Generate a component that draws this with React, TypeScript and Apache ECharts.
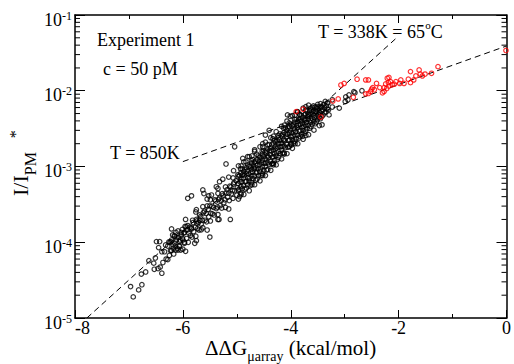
import React, { useEffect, useRef } from "react";
import * as echarts from "echarts";

const FONT = '"Liberation Serif", "Times New Roman", serif';

const xMin = -8;
const xMax = 0;
const yMin = 1e-5;
const yMax = 1e-1;

const yMinorTicks = [
  2e-5, 3e-5, 4e-5, 5e-5, 6e-5, 7e-5, 8e-5, 9e-5,
  2e-4, 3e-4, 4e-4, 5e-4, 6e-4, 7e-4, 8e-4, 9e-4,
  2e-3, 3e-3, 4e-3, 5e-3, 6e-3, 7e-3, 8e-3, 9e-3,
  2e-2, 3e-2, 4e-2, 5e-2, 6e-2, 7e-2, 8e-2, 9e-2,
];

// sparse / outlying black points
const blackSparse: [number, number][] = [
  [-6.97, 2.6e-5], [-6.92, 1.9e-5], [-6.82, 2.35e-5], [-6.76, 2.75e-5], [-6.77, 3.8e-5],
  [-6.69, 4.05e-5], [-6.63, 5.7e-5], [-6.54, 5.3e-5], [-6.53, 4.4e-5], [-6.49, 1.02e-4],
  [-6.43, 1.02e-4], [-6.45, 8.5e-5], [-6.51, 6.2e-5], [-6.46, 4.5e-5], [-6.39, 3.9e-5],
  [-6.42, 4.7e-5], [-6.37, 5.4e-5], [-6.39, 7.5e-5], [-6.34, 7.5e-5], [-6.31, 6.0e-5],
  [-6.28, 5.9e-5], [-6.32, 9.2e-5], [-6.28, 8.9e-5], [-6.24, 1.0e-4], [-6.21, 1.07e-4],
  [-6.18, 8.3e-5], [-6.15, 9.7e-5], [-6.23, 7.8e-5], [-6.13, 7.9e-5], [-6.09, 7.9e-5],
  [-6.06, 8.8e-5], [-6.12, 1.07e-4], [-6.06, 1.02e-4], [-6.19, 1.25e-4], [-6.21, 1.5e-4],
  [-6.13, 1.35e-4], [-6.03, 1.25e-4], [-5.97, 9.7e-5], [-6.01, 1.13e-4], [-5.97, 1.35e-4],
  [-5.91, 1.46e-4], [-5.94, 1.6e-4], [-5.84, 1.5e-4], [-5.78, 9.7e-5], [-5.66, 1.46e-4],
  [-5.5, 1.17e-4], [-5.74, 1.78e-4], [-5.69, 1.95e-4], [-5.91, 3.8e-4], [-5.84, 4.1e-4],
  [-5.63, 4.9e-4], [-5.61, 4.4e-4], [-5.52, 4.1e-4], [-5.47, 4.2e-4], [-5.38, 5.4e-4],
  [-5.32, 6.3e-4], [-5.26, 6.8e-4], [-5.2, 1.08e-3], [-5.12, 2.0e-4], [-5.33, 2.0e-4],
  [-6.0, 8.1e-5], [-5.04, 1.82e-3], [-5.06, 8.8e-4], [-4.89, 1.28e-3], [-4.8, 1.35e-3],
  [-4.67, 1.66e-3], [-4.52, 2.0e-3], [-4.47, 2.6e-3], [-4.4, 3.0e-3], [-4.06, 4.8e-3],
  [-4.01, 4.6e-3], [-4.33, 1.1e-3], [-3.78, 2.5e-3], [-3.99, 1.92e-3], [-3.42, 3.55e-3],
  [-3.29, 4.8e-3], [-3.23, 7.6e-3], [-2.99, 7.2e-3], [-2.94, 7.6e-3], [-2.98, 8.3e-3],
  [-2.92, 8.8e-3], [-2.83, 9.7e-3], [-2.81, 9.4e-3], [-2.68, 1.0e-2], [-3.1, 5.9e-3],
  [-3.23, 6.1e-3], [-3.63, 5.9e-3], [-3.88, 5.3e-3], [-3.72, 5.6e-3], [-3.58, 6.3e-3],
  [-3.84, 4.9e-3],
];

// medium-density part of the band
const blackMid: [number, number][] = [
  [-6.25, 6.7e-5], [-6.26, 1.01e-4], [-6.17, 7.0e-5], [-6.18, 9.2e-5], [-6.16, 1.22e-4],
  [-6.1, 8.3e-5], [-6.11, 1.15e-4], [-6.09, 1.41e-4], [-6.04, 7.9e-5], [-6.05, 1.07e-4],
  [-6.03, 1.35e-4], [-5.97, 1.0e-4], [-5.98, 1.32e-4], [-5.96, 1.62e-4], [-5.9, 1.0e-4],
  [-5.89, 1.32e-4], [-5.91, 1.66e-4], [-5.83, 1.17e-4], [-5.84, 1.55e-4], [-5.82, 1.95e-4],
  [-5.76, 1.2e-4], [-5.77, 1.58e-4], [-5.75, 2.0e-4], [-5.76, 2.51e-4], [-5.7, 1.45e-4],
  [-5.71, 1.82e-4], [-5.69, 2.29e-4], [-5.63, 1.55e-4], [-5.64, 1.95e-4], [-5.62, 2.45e-4],
  [-5.63, 2.95e-4], [-5.56, 1.86e-4], [-5.57, 2.4e-4], [-5.55, 3.02e-4], [-5.49, 1.91e-4],
  [-5.48, 2.4e-4], [-5.5, 3.02e-4], [-5.49, 3.63e-4], [-5.42, 2.29e-4], [-5.43, 2.88e-4],
  [-5.41, 3.63e-4], [-5.35, 2.32e-4], [-5.36, 2.92e-4], [-5.34, 3.67e-4], [-5.35, 4.42e-4],
  [-5.28, 2.82e-4], [-5.29, 3.55e-4], [-5.27, 4.37e-4], [-5.21, 2.88e-4], [-5.22, 3.63e-4],
  [-5.2, 4.47e-4], [-5.21, 5.37e-4], [-5.14, 3.55e-4], [-5.15, 4.47e-4], [-5.13, 5.5e-4],
  [-5.07, 3.8e-4], [-5.08, 4.79e-4], [-5.06, 5.89e-4], [-5.07, 7.08e-4],
  [-6.21, 7.76e-5], [-6.22, 1.02e-4], [-6.14, 8.9e-5], [-6.15, 1.2e-4], [-6.07, 9.0e-5],
  [-6.08, 1.16e-4], [-6.0, 1.07e-4], [-6.01, 1.48e-4], [-5.93, 1.12e-4], [-5.94, 1.45e-4],
  [-5.86, 1.23e-4], [-5.87, 1.58e-4], [-5.8, 1.38e-4], [-5.81, 1.82e-4], [-5.73, 1.51e-4],
  [-5.74, 1.91e-4], [-5.66, 1.74e-4], [-5.67, 2.19e-4], [-5.59, 1.95e-4], [-5.6, 2.57e-4],
  [-5.52, 2.17e-4], [-5.53, 2.73e-4], [-5.45, 2.37e-4], [-5.46, 2.99e-4], [-5.38, 2.78e-4],
  [-5.39, 3.5e-4], [-5.31, 3.04e-4], [-5.32, 3.83e-4], [-5.24, 3.33e-4], [-5.25, 4.19e-4],
  [-5.17, 3.93e-4], [-5.18, 4.94e-4], [-5.1, 4.37e-4], [-5.11, 5.37e-4], [-5.04, 4.79e-4],
  [-5.05, 6.17e-4],
  [-5.95, 7.6e-5], [-5.95, 2.0e-4], [-5.75, 1.05e-4], [-5.75, 2.69e-4], [-5.55, 1.45e-4],
  [-5.55, 3.72e-4], [-5.35, 2.0e-4], [-5.35, 5.13e-4], [-5.15, 2.75e-4], [-5.15, 7.24e-4],
];

// dense part of the band
const blackDense: [number, number][] = [
  [-5.0, 4.17e-4], [-4.99, 5.25e-4], [-5.01, 6.46e-4], [-4.98, 7.76e-4],
  [-4.95, 4.0e-4], [-4.96, 5.0e-4], [-4.94, 6.3e-4], [-4.95, 7.6e-4], [-4.93, 9.3e-4],
  [-4.9, 5.1e-4], [-4.91, 6.3e-4], [-4.89, 7.8e-4], [-4.9, 9.3e-4],
  [-4.85, 5.0e-4], [-4.84, 6.3e-4], [-4.86, 7.6e-4], [-4.85, 9.1e-4], [-4.83, 1.15e-3],
  [-4.8, 5.75e-4], [-4.79, 7.1e-4], [-4.81, 8.7e-4], [-4.8, 1.05e-3],
  [-4.75, 5.6e-4], [-4.76, 7.0e-4], [-4.74, 8.4e-4], [-4.75, 1.01e-3], [-4.73, 1.19e-3],
  [-4.7, 6.9e-4], [-4.71, 8.5e-4], [-4.69, 1.02e-3], [-4.7, 1.23e-3],
  [-4.65, 6.6e-4], [-4.64, 8.2e-4], [-4.66, 9.8e-4], [-4.65, 1.18e-3], [-4.63, 1.45e-3],
  [-4.6, 7.6e-4], [-4.61, 9.3e-4], [-4.59, 1.15e-3], [-4.6, 1.38e-3],
  [-4.55, 7.6e-4], [-4.56, 9.3e-4], [-4.54, 1.12e-3], [-4.55, 1.32e-3], [-4.53, 1.58e-3],
  [-4.5, 8.9e-4], [-4.49, 1.1e-3], [-4.51, 1.35e-3], [-4.5, 1.62e-3],
  [-4.45, 9.0e-4], [-4.46, 1.11e-3], [-4.44, 1.33e-3], [-4.45, 1.6e-3], [-4.43, 1.93e-3],
  [-4.4, 1.07e-3], [-4.41, 1.32e-3], [-4.39, 1.62e-3], [-4.4, 1.95e-3],
  [-4.35, 1.08e-3], [-4.34, 1.33e-3], [-4.36, 1.6e-3], [-4.35, 1.93e-3], [-4.33, 2.32e-3],
  [-4.3, 1.2e-3], [-4.31, 1.48e-3], [-4.29, 1.82e-3], [-4.3, 2.19e-3],
  [-4.25, 1.23e-3], [-4.26, 1.51e-3], [-4.24, 1.82e-3], [-4.25, 2.19e-3], [-4.23, 2.57e-3],
  [-4.2, 1.48e-3], [-4.19, 1.82e-3], [-4.21, 2.24e-3], [-4.2, 2.69e-3],
  [-4.15, 1.5e-3], [-4.16, 1.84e-3], [-4.14, 2.21e-3], [-4.15, 2.66e-3], [-4.13, 3.2e-3],
  [-4.1, 1.78e-3], [-4.11, 2.19e-3], [-4.09, 2.69e-3], [-4.1, 3.24e-3],
  [-4.05, 1.8e-3], [-4.04, 2.21e-3], [-4.06, 2.66e-3], [-4.05, 3.2e-3], [-4.03, 3.76e-3],
  [-4.0, 2.0e-3], [-3.99, 2.45e-3], [-4.01, 3.02e-3], [-4.0, 3.63e-3],
  [-3.95, 2.04e-3], [-3.96, 2.51e-3], [-3.94, 3.02e-3], [-3.95, 3.55e-3], [-3.93, 4.17e-3],
  [-3.9, 2.34e-3], [-3.91, 2.88e-3], [-3.89, 3.47e-3], [-3.9, 4.17e-3],
  [-3.85, 2.37e-3], [-3.84, 2.92e-3], [-3.86, 3.51e-3], [-3.85, 4.12e-3], [-3.83, 4.84e-3],
  [-3.8, 2.69e-3], [-3.79, 3.31e-3], [-3.81, 3.98e-3], [-3.8, 4.68e-3],
  [-3.75, 2.75e-3], [-3.76, 3.39e-3], [-3.74, 4.07e-3], [-3.75, 4.79e-3],
  [-3.7, 3.16e-3], [-3.71, 3.8e-3], [-3.69, 4.57e-3], [-3.7, 5.37e-3],
  [-3.65, 3.2e-3], [-3.64, 3.85e-3], [-3.66, 4.62e-3], [-3.65, 5.43e-3],
  [-3.6, 3.63e-3], [-3.61, 4.37e-3], [-3.59, 5.25e-3], [-3.6, 6.03e-3],
  [-3.55, 3.67e-3], [-3.56, 4.42e-3], [-3.54, 5.31e-3], [-3.55, 6.1e-3],
  [-3.5, 4.17e-3], [-3.49, 4.9e-3], [-3.51, 5.75e-3], [-3.5, 6.61e-3],
  [-3.45, 4.27e-3], [-3.46, 5.13e-3], [-3.44, 6.03e-3], [-3.45, 6.76e-3],
  [-3.4, 4.79e-3], [-3.41, 5.62e-3], [-3.39, 6.61e-3],
  [-3.35, 5.25e-3], [-3.34, 6.31e-3], [-3.36, 7.24e-3],
  [-3.3, 5.62e-3], [-3.31, 6.92e-3],
  [-4.975, 4.84e-4], [-4.975, 5.96e-4], [-4.975, 7.33e-4],
  [-4.925, 4.42e-4], [-4.925, 5.43e-4], [-4.925, 6.84e-4], [-4.925, 8.22e-4],
  [-4.875, 5.56e-4], [-4.875, 7.0e-4], [-4.875, 8.6e-4],
  [-4.825, 5.19e-4], [-4.825, 6.38e-4], [-4.825, 8.04e-4], [-4.825, 9.66e-4],
  [-4.775, 6.46e-4], [-4.775, 7.94e-4], [-4.775, 1.0e-3],
  [-4.725, 6.1e-4], [-4.725, 7.5e-4], [-4.725, 9.2e-4], [-4.725, 1.11e-3],
  [-4.675, 7.5e-4], [-4.675, 9.4e-4], [-4.675, 1.14e-3],
  [-4.625, 6.84e-4], [-4.625, 8.4e-4], [-4.625, 1.04e-3], [-4.625, 1.24e-3],
  [-4.575, 8.6e-4], [-4.575, 1.06e-3], [-4.575, 1.33e-3],
  [-4.525, 8.04e-4], [-4.525, 9.9e-4], [-4.525, 1.22e-3], [-4.525, 1.46e-3],
  [-4.475, 1.0e-3], [-4.475, 1.26e-3], [-4.475, 1.55e-3],
  [-4.425, 9.1e-4], [-4.425, 1.12e-3], [-4.425, 1.38e-3], [-4.425, 1.7e-3],
  [-4.375, 1.16e-3], [-4.375, 1.43e-3], [-4.375, 1.76e-3],
  [-4.325, 1.1e-3], [-4.325, 1.35e-3], [-4.325, 1.66e-3], [-4.325, 2.04e-3],
  [-4.275, 1.38e-3], [-4.275, 1.74e-3], [-4.275, 2.14e-3],
  [-4.225, 1.32e-3], [-4.225, 1.58e-3], [-4.225, 2.0e-3], [-4.225, 2.4e-3],
  [-4.175, 1.64e-3], [-4.175, 2.02e-3], [-4.175, 2.54e-3],
  [-4.125, 1.51e-3], [-4.125, 1.86e-3], [-4.125, 2.29e-3], [-4.125, 2.82e-3],
  [-4.075, 1.95e-3], [-4.075, 2.45e-3], [-4.075, 3.02e-3],
  [-4.025, 1.84e-3], [-4.025, 2.26e-3], [-4.025, 2.79e-3], [-4.025, 3.35e-3],
  [-3.975, 2.26e-3], [-3.975, 2.79e-3], [-3.975, 3.43e-3],
  [-3.925, 2.16e-3], [-3.925, 2.6e-3], [-3.925, 3.2e-3], [-3.925, 3.85e-3],
  [-3.875, 2.58e-3], [-3.875, 3.25e-3], [-3.875, 3.91e-3],
  [-3.825, 2.49e-3], [-3.825, 3.0e-3], [-3.825, 3.6e-3], [-3.825, 4.24e-3],
  [-3.775, 2.99e-3], [-3.775, 3.67e-3], [-3.775, 4.42e-3],
  [-3.725, 2.92e-3], [-3.725, 3.51e-3], [-3.725, 4.22e-3], [-3.725, 4.95e-3],
  [-3.675, 3.48e-3], [-3.675, 4.19e-3], [-3.675, 4.92e-3],
  [-3.625, 3.37e-3], [-3.625, 4.05e-3], [-3.625, 4.86e-3], [-3.625, 5.58e-3],
  [-3.575, 3.91e-3], [-3.575, 4.7e-3], [-3.575, 5.52e-3],
  [-3.525, 3.86e-3], [-3.525, 4.54e-3], [-3.525, 5.33e-3], [-3.525, 6.12e-3],
  [-3.475, 4.47e-3], [-3.475, 5.25e-3], [-3.475, 6.17e-3],
  [-3.425, 4.57e-3], [-3.425, 5.37e-3], [-3.425, 6.17e-3],
  [-3.375, 5.13e-3], [-3.375, 6.03e-3],
  [-3.325, 5.75e-3], [-3.325, 6.92e-3],
  // outer edges of the dense band
  [-4.97, 3.72e-4], [-4.97, 1.02e-3], [-4.87, 4.27e-4], [-4.87, 1.15e-3],
  [-4.77, 4.79e-4], [-4.77, 1.35e-3], [-4.67, 5.75e-4], [-4.67, 1.58e-3],
  [-4.57, 6.46e-4], [-4.57, 1.82e-3], [-4.47, 7.59e-4], [-4.47, 2.09e-3],
  [-4.37, 8.9e-4], [-4.37, 2.4e-3], [-4.27, 1.05e-3], [-4.27, 2.88e-3],
  [-4.17, 1.26e-3], [-4.17, 3.39e-3], [-4.07, 1.48e-3], [-4.07, 3.98e-3],
  [-3.97, 1.74e-3], [-3.97, 4.68e-3], [-3.87, 2.0e-3], [-3.87, 5.25e-3],
  [-3.77, 2.29e-3], [-3.77, 5.89e-3], [-3.67, 2.63e-3], [-3.67, 6.46e-3],
  [-3.57, 3.02e-3], [-3.47, 3.47e-3],
  [-4.92, 4.27e-4], [-4.92, 1.02e-3], [-4.72, 5.75e-4], [-4.72, 1.38e-3],
  [-4.52, 7.59e-4], [-4.52, 1.82e-3], [-4.32, 1.05e-3], [-4.32, 2.51e-3],
  [-4.12, 1.46e-3], [-4.12, 3.51e-3], [-3.92, 2.0e-3], [-3.92, 4.79e-3],
  [-3.72, 2.57e-3], [-3.72, 6.17e-3],
];

const redPoints: [number, number][] = [
  [-3.9, 5.3e-3], [-3.77, 5.7e-3], [-3.44, 4.5e-3], [-3.22, 7.3e-3], [-3.12, 7.8e-3],
  [-3.07, 1.19e-2], [-3.01, 1.25e-2], [-2.77, 1.42e-2], [-2.61, 1.39e-2], [-2.56, 1.39e-2],
  [-2.84, 8.2e-3], [-2.61, 9.1e-3], [-2.56, 9.2e-3], [-2.52, 9.8e-3], [-2.5, 1.05e-2],
  [-2.48, 1.1e-2], [-2.45, 1.03e-2], [-2.41, 1.25e-2], [-2.35, 1.1e-2], [-2.3, 9.4e-3],
  [-2.27, 9.8e-3], [-2.27, 1.1e-2], [-2.24, 1.23e-2], [-2.21, 1.46e-2], [-2.18, 1.5e-2],
  [-2.19, 1.28e-2], [-2.15, 1.32e-2], [-2.22, 1.07e-2], [-2.18, 1.15e-2], [-2.12, 1.2e-2],
  [-2.08, 1.22e-2], [-2.05, 1.32e-2], [-1.96, 1.39e-2], [-1.98, 1.25e-2], [-1.9, 1.25e-2],
  [-1.78, 1.79e-2], [-1.82, 1.42e-2], [-1.78, 1.28e-2], [-1.72, 1.39e-2], [-1.68, 1.57e-2],
  [-1.62, 1.88e-2], [-1.6, 1.66e-2], [-1.56, 1.57e-2], [-1.51, 1.66e-2], [-1.39, 1.7e-2],
  [-1.27, 2.08e-2], [-0.01, 3.4e-2],
];

const line338K: [number, number][] = [[-7.78, 1.0e-5], [-2.05, 4.9e-2]];
const line850K: [number, number][] = [[-6.0, 1.16e-3], [0, 3.9e-2]];

const blackPoints = [...blackSparse, ...blackMid, ...blackDense];

const axisLineStyle = { color: "#000", width: 1.5 };

function buildOption(): any {
  const xAxisCommon = {
    type: "value",
    min: xMin,
    max: xMax,
    interval: 2,
    splitLine: { show: false },
    axisLine: { show: true, onZero: false, lineStyle: axisLineStyle },
    axisTick: { show: true, inside: true, length: 8, lineStyle: { color: "#000", width: 1 } },
    minorTick: { show: true, splitNumber: 2, length: 4, lineStyle: { color: "#000", width: 1 } },
    minorSplitLine: { show: false },
  };
  const yAxisCommon = {
    type: "log",
    logBase: 10,
    min: yMin,
    max: yMax,
    interval: 1,
    splitLine: { show: false },
    axisLine: { show: true, onZero: false, lineStyle: axisLineStyle },
    axisTick: { show: true, inside: true, length: 10, lineStyle: { color: "#000", width: 1 } },
  };
  const txt = (text: string, x: number, y: number) => ({
    type: "text",
    x,
    y,
    style: {
      text,
      fontSize: 18,
      fontFamily: FONT,
      fill: "#000",
      align: "left",
      textAlign: "left",
      verticalAlign: "middle",
      textVerticalAlign: "middle",
    },
  });
  return {
    animation: false,
    backgroundColor: "#fff",
    grid: { left: 75, right: 6, top: 15, bottom: 46, containLabel: false },
    xAxis: [
      {
        ...xAxisCommon,
        position: "bottom",
        axisLabel: {
          show: true,
          color: "#000",
          fontSize: 18,
          fontFamily: FONT,
          margin: 1,
          alignMinLabel: "left",
        },
      },
      { ...xAxisCommon, position: "top", axisLabel: { show: false } },
    ],
    yAxis: [
      {
        ...yAxisCommon,
        position: "left",
        axisLabel: {
          show: true,
          margin: 3,
          padding: [8, 0, 0, 0],
          formatter: (v: number) => `{b|10}{s|${Math.round(Math.log10(v))}}`,
          rich: {
            b: { fontSize: 18, fontFamily: FONT, color: "#000", verticalAlign: "bottom", lineHeight: 19 },
            s: { fontSize: 12, fontFamily: FONT, color: "#000", verticalAlign: "top" },
          },
        },
      },
      { ...yAxisCommon, position: "right", axisLabel: { show: false } },
    ],
    graphic: [
      txt("Experiment 1", 97, 40),
      txt("c = 50 pM", 103, 69),
      txt("T = 850K", 110, 153),
      {
        type: "text",
        x: 318,
        y: 30,
        style: {
          text: "{n|T = 338K = 65}{s|o}{n|C}",
          fill: "#000",
          align: "left",
          textAlign: "left",
          verticalAlign: "middle",
          textVerticalAlign: "middle",
          rich: {
            n: { fontSize: 18, fontFamily: FONT, fill: "#000", color: "#000", lineHeight: 21, verticalAlign: "bottom" },
            s: { fontSize: 11, fontFamily: FONT, fill: "#000", color: "#000", verticalAlign: "top" },
          },
        },
      },
      {
        type: "text",
        x: 205,
        y: 337.5,
        style: {
          text: "{m|ΔΔG}{s|μarray}{m| (kcal/mol)}",
          fill: "#000",
          align: "left",
          textAlign: "left",
          verticalAlign: "top",
          textVerticalAlign: "top",
          rich: {
            m: { fontSize: 21, fontFamily: FONT, fill: "#000", color: "#000", lineHeight: 26, verticalAlign: "top" },
            s: { fontSize: 14, fontFamily: FONT, fill: "#000", color: "#000", verticalAlign: "bottom" },
          },
        },
      },
      {
        type: "text",
        x: 20,
        y: 196,
        rotation: Math.PI / 2,
        style: {
          text: "{m|I/I}{s|PM}{p|*}",
          fill: "#000",
          align: "left",
          textAlign: "left",
          verticalAlign: "middle",
          textVerticalAlign: "middle",
          rich: {
            m: { fontSize: 22, fontFamily: FONT, fill: "#000", color: "#000", lineHeight: 37, verticalAlign: "middle" },
            s: { fontSize: 16, fontFamily: FONT, fill: "#000", color: "#000", verticalAlign: "bottom" },
            p: { fontSize: 16, fontFamily: FONT, fill: "#000", color: "#000", verticalAlign: "middle", padding: [0, 0, 10, 14] },
          },
        },
      },
    ],
    series: [
      {
        type: "line",
        name: "T = 338K",
        data: line338K,
        symbol: "none",
        showSymbol: false,
        lineStyle: { color: "#000", width: 1, type: [6, 4] },
        z: 2,
        silent: true,
      },
      {
        type: "line",
        name: "T = 850K",
        data: line850K,
        symbol: "none",
        showSymbol: false,
        lineStyle: { color: "#000", width: 1, type: [6, 4] },
        z: 2,
        silent: true,
      },
      {
        type: "scatter",
        name: "black",
        data: blackPoints,
        symbol: "circle",
        symbolSize: 4.5,
        itemStyle: { color: "rgba(0,0,0,0)", borderColor: "#000", borderWidth: 1.2 },
        z: 3,
        silent: true,
      },
      {
        type: "scatter",
        name: "red",
        data: redPoints,
        symbol: "circle",
        symbolSize: 4.5,
        itemStyle: { color: "rgba(0,0,0,0)", borderColor: "#ff0000", borderWidth: 1.2 },
        z: 4,
        silent: true,
      },
      {
        type: "custom",
        name: "minorTicks",
        coordinateSystem: "cartesian2d",
        clip: false,
        silent: true,
        z: 5,
        data: yMinorTicks.map((v) => [xMin, v]),
        renderItem: (_params: any, api: any) => {
          const v = api.value(1);
          const l = api.coord([xMin, v]);
          const r = api.coord([xMax, v]);
          return {
            type: "group",
            children: [
              { type: "line", shape: { x1: l[0], y1: l[1], x2: l[0] + 5, y2: l[1] }, style: { stroke: "#000", lineWidth: 1 } },
              { type: "line", shape: { x1: r[0] - 5, y1: r[1], x2: r[0], y2: r[1] }, style: { stroke: "#000", lineWidth: 1 } },
            ],
          };
        },
      },
    ],
  };
}

export default function App() {
  const ref = useRef<HTMLDivElement>(null);
  useEffect(() => {
    if (!ref.current) return;
    const chart = echarts.init(ref.current, null, { renderer: "svg" });
    chart.setOption(buildOption());
    return () => chart.dispose();
  }, []);
  return (
    <div
      ref={ref}
      style={{ position: "absolute", left: 0, top: 0, width: 514, height: 364, background: "#fff" }}
    />
  );
}
